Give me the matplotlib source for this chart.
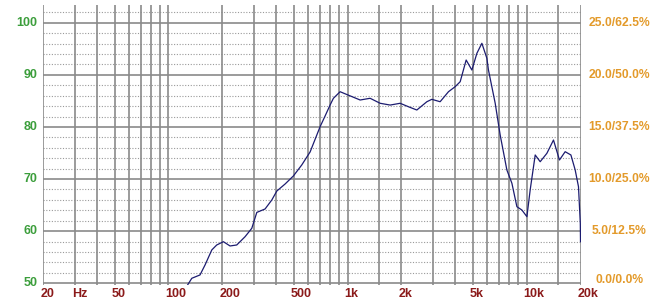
import matplotlib
matplotlib.use("Agg")
import matplotlib.pyplot as plt

# frequency response (Hz, dB)
freq = [123.8, 135, 150, 160, 174.6, 186, 202.6, 220.8, 240.6, 267.8, 292,
        311.4, 346.4, 377.6, 402.8, 448, 498.6, 555, 618, 702.8, 749.4, 799,
        834, 909, 1011, 1176, 1337, 1521, 1730, 1967, 2188, 2438, 2774, 2956,
        3290, 3662, 3990, 4257, 4597, 4948, 5277, 5627, 6001, 6124, 6678,
        7120, 7760, 8278, 8826, 9412, 10040, 10470, 11170, 11910, 12980,
        14130, 15260, 16420, 17680, 18680, 19490, 19950, 20000]
spl = [48.9, 50.96, 51.6, 53.5, 56.4, 57.35, 57.98, 57.16, 57.35, 58.94, 60.55,
       63.6, 64.26, 65.98, 67.7, 69.05, 70.6, 72.7, 75.2, 80.05, 82.1, 84.2,
       85.5, 86.76, 86.1, 85.17, 85.5, 84.54, 84.2, 84.54, 83.88, 83.25, 84.84,
       85.3, 84.84, 86.76, 87.72, 88.68, 92.84, 90.92, 94.13, 96.05, 93.17,
       90.92, 84.54, 78.45, 71.74, 69.19, 64.7, 64.06, 62.78, 67.9, 74.62,
       73.33, 74.94, 77.49, 73.66, 75.25, 74.62, 71.74, 68.53, 61.5, 57.98]

db_ticks = [50, 60, 70, 80, 90, 100]
right_labels = ["0.0/0.0%", "5.0/12.5%", "10.0/25.0%", "15.0/37.5%",
                "20.0/50.0%", "25.0/62.5%"]
x_ticks = [20, 30, 50, 100, 200, 500, 1000, 2000, 5000, 10000, 20000]
x_labels = ["20", "Hz", "50", "100", "200", "500", "1k", "2k", "5k", "10k", "20k"]
grid_freqs = ([20, 30, 40, 50, 60, 70, 80, 90]
              + [100, 200, 300, 400, 500, 600, 700, 800, 900]
              + [1000, 1500, 2000, 3000, 4000, 5000, 6000, 7000, 8000, 9000]
              + [10000, 15000, 20000])

GREEN = "#3c9e3c"
ORANGE = "#e39a2a"
RED = "#8b1a1a"
FONT = ["Liberation Sans", "DejaVu Sans"]

fig = plt.figure(figsize=(6.57, 3.03), dpi=100)
ax = fig.add_axes([43.3 / 657, 18 / 303, 537.2 / 657, 280 / 303])
ax.set_xscale("log")
ax.set_xlim(20, 20000)
ax.set_ylim(49.67, 103.4)

# grid
for v in range(50, 104, 2):
    if v % 10 == 0:
        ax.axhline(v, color="#8a8a8a", lw=1.2, zorder=1)
    else:
        ax.axhline(v, color="#9a9a9a", lw=0.8, ls=(0, (1, 1.5)), zorder=1)
for f in grid_freqs:
    ax.axvline(f, color="#8a8a8a", lw=1.2, zorder=1)

ax.plot(freq, spl, color="#1c1c70", lw=0.9, zorder=3)

for s in ax.spines.values():
    s.set_visible(False)
ax.set_xticks([])
ax.set_yticks([])
ax.minorticks_off()

for v, lab in zip(db_ticks, right_labels):
    ax.annotate(str(v), xy=(0, v), xycoords=("axes fraction", "data"),
                xytext=(-6, 0), textcoords="offset pixels", ha="right",
                va="center", color=GREEN, fontsize=9, fontweight="bold",
                family=FONT, annotation_clip=False)
    ax.annotate(lab, xy=(1, v), xycoords=("axes fraction", "data"),
                xytext=(39, 3 if v == 50 else 0), textcoords="offset pixels",
                ha="center", va="center", color=ORANGE, fontsize=8.7,
                fontweight="bold", family=FONT, annotation_clip=False)

for f, lab in zip(x_ticks, x_labels):
    ax.annotate(lab, xy=(f, 0), xycoords=("data", "axes fraction"),
                xytext=(-3, -9), textcoords="offset pixels", ha="left",
                va="center", color=RED, fontsize=9, fontweight="bold",
                family=FONT, annotation_clip=False)

fig.savefig("out.png", dpi=100)
